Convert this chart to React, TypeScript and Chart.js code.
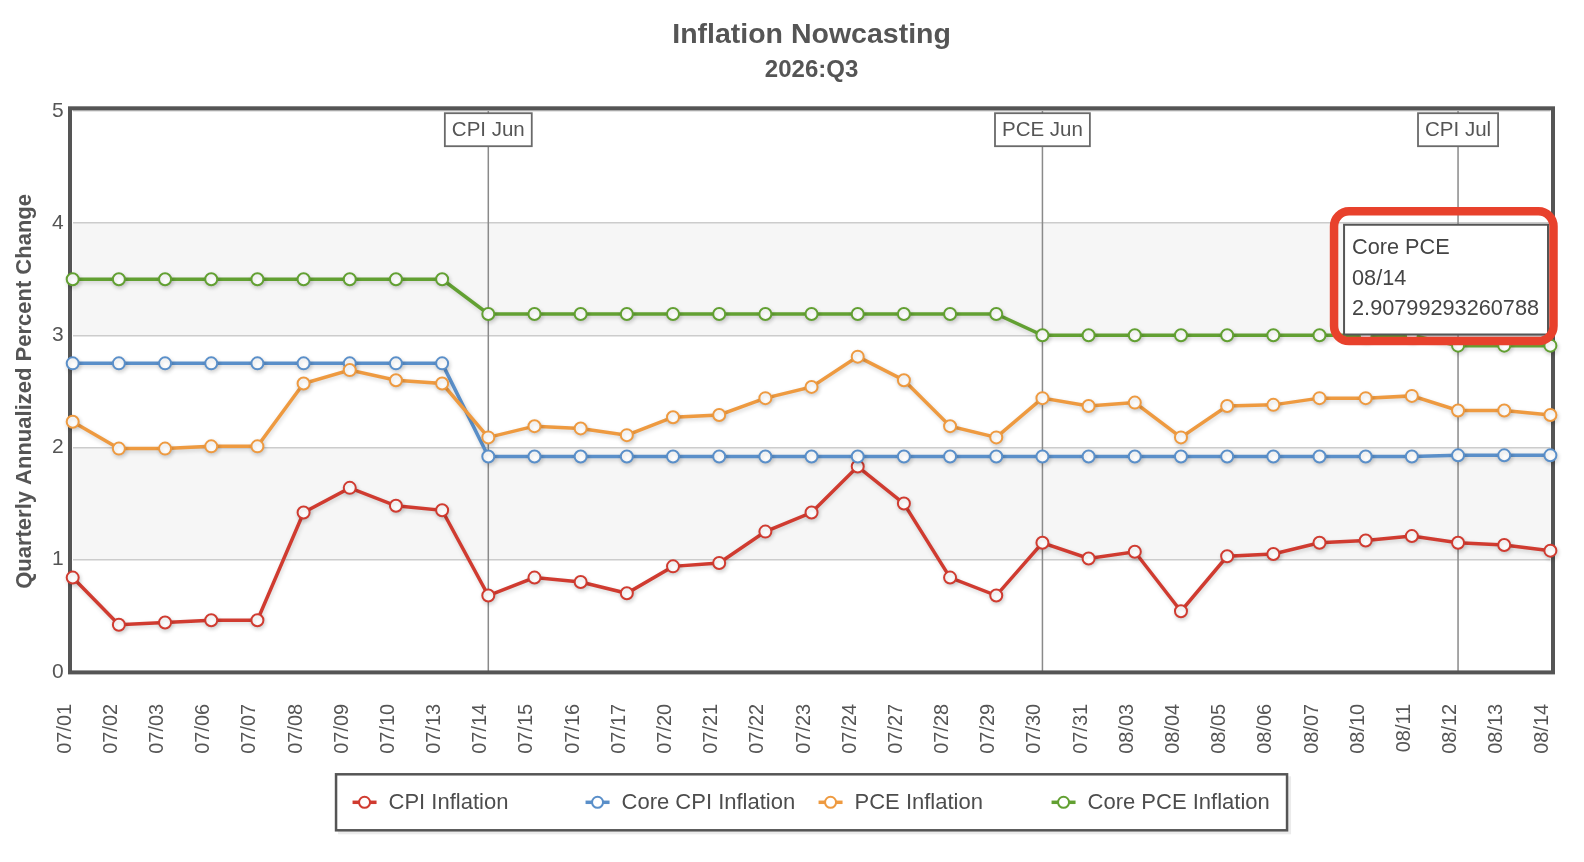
import React, { useEffect, useRef } from 'react';
import { Chart, registerables, Tooltip } from 'chart.js';

Chart.register(...registerables);

// ---------- data ----------
const categories = [
  '07/01', '07/02', '07/03', '07/06', '07/07', '07/08', '07/09', '07/10', '07/13', '07/14',
  '07/15', '07/16', '07/17', '07/20', '07/21', '07/22', '07/23', '07/24', '07/27', '07/28',
  '07/29', '07/30', '07/31', '08/03', '08/04', '08/05', '08/06', '08/07', '08/10', '08/11',
  '08/12', '08/13', '08/14',
];

const cpiInflation = [
  0.84, 0.42, 0.44, 0.46, 0.46, 1.42, 1.64, 1.48, 1.44, 0.68,
  0.84, 0.80, 0.70, 0.94, 0.97, 1.25, 1.42, 1.83, 1.50, 0.84,
  0.68, 1.15, 1.01, 1.07, 0.54, 1.03, 1.05, 1.15, 1.17, 1.21,
  1.15, 1.13, 1.08,
];

const coreCpiInflation = [
  2.75, 2.75, 2.75, 2.75, 2.75, 2.75, 2.75, 2.75, 2.75, 1.92,
  1.92, 1.92, 1.92, 1.92, 1.92, 1.92, 1.92, 1.92, 1.92, 1.92,
  1.92, 1.92, 1.92, 1.92, 1.92, 1.92, 1.92, 1.92, 1.92, 1.92,
  1.93, 1.93, 1.93,
];

const pceInflation = [
  2.23, 1.99, 1.99, 2.01, 2.01, 2.57, 2.69, 2.60, 2.57, 2.09,
  2.19, 2.17, 2.11, 2.27, 2.29, 2.44, 2.54, 2.81, 2.60, 2.19,
  2.09, 2.44, 2.37, 2.40, 2.09, 2.37, 2.38, 2.44, 2.44, 2.46,
  2.33, 2.33, 2.29,
];

const corePceInflation = [
  3.50, 3.50, 3.50, 3.50, 3.50, 3.50, 3.50, 3.50, 3.50, 3.19,
  3.19, 3.19, 3.19, 3.19, 3.19, 3.19, 3.19, 3.19, 3.19, 3.19,
  3.19, 3.00, 3.00, 3.00, 3.00, 3.00, 3.00, 3.00, 3.00, 3.00,
  2.908, 2.908, 2.90799293260788,
];

const seriesNames = ['CPI Inflation', 'Core CPI Inflation', 'PCE Inflation', 'Core PCE Inflation'];
const seriesShortNames = ['CPI', 'Core CPI', 'PCE', 'Core PCE'];
const seriesColors = ['#d03b30', '#5a8fc9', '#ee9a40', '#62a032'];
const seriesValues = [cpiInflation, coreCpiInflation, pceInflation, corePceInflation];

const yMin = 0;
const yMax = 5;
const yStep = 1;

const plotLineDates = ['07/14', '07/30', '08/12'];
const plotLineLabels = ['CPI Jun', 'PCE Jun', 'CPI Jul'];
const bandRanges = [[1, 2], [3, 4]];

const tooltipSeriesIndex = 3;
const tooltipDate = '08/14';

const chartTitle = 'Inflation Nowcasting';
const chartSubtitle = '2026:Q3';
const yAxisTitle = 'Quarterly Annualized Percent Change';

const FONT = '"Liberation Sans", Arial, Helvetica, sans-serif';

(Tooltip as any).positioners.fixedTopRight = function () {
  const chart = this.chart;
  const ca = chart.chartArea;
  return { x: ca.right - 2.4, y: chart.scales.y.getPixelForValue(4) + 1.6 };
};

const decorPlugin = {
  id: 'decor',
  beforeDraw(chart: any) {
    const { ctx, chartArea: ca, scales } = chart;
    ctx.save();
    ctx.fillStyle = '#ffffff';
    ctx.fillRect(0, 0, chart.width, chart.height);
    ctx.fillStyle = '#f6f6f6';
    bandRanges.forEach(([a, b]) => {
      const y1 = scales.y.getPixelForValue(b);
      const y2 = scales.y.getPixelForValue(a);
      ctx.fillRect(ca.left, y1, ca.right - ca.left, y2 - y1);
    });
    ctx.restore();
  },
  beforeDatasetsDraw(chart: any) {
    const { ctx, chartArea: ca, scales } = chart;
    ctx.save();
    // plot lines
    plotLineDates.forEach((d, i) => {
      const x = scales.x.getPixelForValue(categories.indexOf(d));
      ctx.strokeStyle = '#8a8a8a';
      ctx.lineWidth = 1.5;
      ctx.beginPath();
      ctx.moveTo(x, ca.top);
      ctx.lineTo(x, ca.bottom);
      ctx.stroke();
      ctx.font = `20.5px ${FONT}`;
      const tw = ctx.measureText(plotLineLabels[i]).width;
      const bw = tw + 14;
      const bh = 33;
      const bx = x - bw / 2;
      const by = ca.top + 2.2;
      ctx.fillStyle = '#ffffff';
      ctx.fillRect(bx, by, bw, bh);
      ctx.strokeStyle = '#6a6a6a';
      ctx.lineWidth = 1.8;
      ctx.strokeRect(bx, by, bw, bh);
      ctx.fillStyle = '#555555';
      ctx.textAlign = 'center';
      ctx.textBaseline = 'middle';
      ctx.fillText(plotLineLabels[i], x, by + bh / 2 + 1);
    });
    // plot border
    ctx.strokeStyle = '#555555';
    ctx.lineWidth = 4;
    const l = ca.left - 2.7;
    const r = ca.right + 2.6;
    const t = ca.top - 2.7;
    const b = ca.bottom + 0.6;
    ctx.strokeRect(l, t, r - l, b - t);
    ctx.restore();
    // shadow for series
    ctx.save();
    ctx.shadowColor = 'rgba(0,0,0,0.16)';
    ctx.shadowBlur = 4;
    ctx.shadowOffsetX = 1;
    ctx.shadowOffsetY = 2;
  },
  afterDatasetsDraw(chart: any) {
    chart.ctx.restore();
  },
  beforeTooltipDraw(chart: any, args: any) {
    const t = args.tooltip;
    if (!t || !t.opacity) return;
    const ctx = chart.ctx;
    ctx.save();
    ctx.fillStyle = 'rgba(0,0,0,0.10)';
    ctx.fillRect(t.x + 2, t.y + 2, t.width + 1, t.height + 1);
    ctx.restore();
  },
  afterTooltipDraw(chart: any, args: any) {
    const t = args.tooltip;
    if (!t || !t.opacity) return;
    const ctx = chart.ctx;
    ctx.save();
    ctx.strokeStyle = '#e8412c';
    ctx.lineWidth = 8.5;
    const l = t.x - 10;
    const r = t.x + t.width + 5.5;
    const tp = t.y - 13.5;
    const b = t.y + t.height + 6.5;
    ctx.beginPath();
    (ctx as any).roundRect(l, tp, r - l, b - tp, 15);
    ctx.stroke();
    ctx.restore();
  },
  afterDraw(chart: any) {
    const { ctx, chartArea: ca } = chart;
    const cx = (ca.left + ca.right) / 2;
    const w = 951;
    const h = 56;
    const left = cx - w / 2;
    const top = ca.bottom + 102.5;
    ctx.save();
    ctx.fillStyle = 'rgba(0,0,0,0.08)';
    ctx.fillRect(left + 2, top + 2, w + 2, h + 2);
    ctx.fillStyle = '#ffffff';
    ctx.fillRect(left, top, w, h);
    ctx.strokeStyle = '#555555';
    ctx.lineWidth = 2.5;
    ctx.strokeRect(left, top, w, h);
    chart.data.datasets.forEach((ds: any, i: number) => {
      const sx = left + 28.5 + i * 233;
      const sy = top + h / 2;
      ctx.strokeStyle = ds.borderColor;
      ctx.lineWidth = 3.5;
      ctx.beginPath();
      ctx.moveTo(sx - 12, sy);
      ctx.lineTo(sx + 12, sy);
      ctx.stroke();
      ctx.beginPath();
      ctx.arc(sx, sy, 5.5, 0, Math.PI * 2);
      ctx.fillStyle = '#ffffff';
      ctx.fill();
      ctx.lineWidth = 2;
      ctx.stroke();
      ctx.fillStyle = '#4d4d4d';
      ctx.font = `22px ${FONT}`;
      ctx.textAlign = 'left';
      ctx.textBaseline = 'middle';
      ctx.fillText(ds.label, sx + 24, sy + 1);
    });
    ctx.restore();
  },
};

export default function App() {
  const canvasRef = useRef<HTMLCanvasElement | null>(null);

  useEffect(() => {
    const canvas = canvasRef.current;
    if (!canvas) return;
    Chart.defaults.font.family = FONT;

    const datasets = seriesValues.map((vals, i) => ({
      label: seriesNames[i],
      data: vals,
      borderColor: seriesColors[i],
      backgroundColor: seriesColors[i],
      borderWidth: 3.5,
      pointRadius: 6,
      pointBorderWidth: 2,
      pointBackgroundColor: '#ffffff',
      pointBorderColor: seriesColors[i],
      pointHoverRadius: 6,
      tension: 0,
      clip: false as any,
      order: seriesValues.length - 1 - i,
    }));

    const chart = new Chart(canvas, {
      type: 'line',
      data: { labels: categories, datasets },
      options: {
        responsive: false,
        animation: false,
        events: [],
        layout: { padding: { top: 0, left: 0, right: 33.6, bottom: 0 } },
        scales: {
          x: {
            type: 'category',
            offset: false,
            grid: {
              display: true,
              drawOnChartArea: false,
              drawTicks: true,
              tickLength: 32,
              color: 'rgba(0,0,0,0)',
            },
            border: { display: false },
            ticks: {
              color: '#555555',
              font: { size: 20 },
              autoSkip: false,
              minRotation: 90,
              maxRotation: 90,
              padding: 0,
              labelOffset: -7.5,
            },
            afterFit: (scale: any) => {
              scale.height = 190.2;
            },
          },
          y: {
            min: yMin,
            max: yMax,
            grid: { color: '#cccccc', lineWidth: 1.5, drawTicks: false },
            border: { display: false },
            ticks: {
              stepSize: yStep,
              color: '#555555',
              font: { size: 21 },
              padding: 9,
            },
            title: {
              display: true,
              text: yAxisTitle,
              color: '#555555',
              font: { size: 22, weight: 'bold' },
              padding: { top: 11.8, bottom: 0 },
            },
            afterFit: (scale: any) => {
              scale.width = 72.7;
            },
          },
        },
        plugins: {
          legend: { display: false },
          title: {
            display: true,
            text: chartTitle,
            color: '#555555',
            font: { size: 28.5, weight: 'bold', lineHeight: 1.2 },
            padding: { top: 17.9, bottom: 0 },
            fullSize: false,
          },
          subtitle: {
            display: true,
            text: chartSubtitle,
            color: '#555555',
            font: { size: 24, weight: 'bold', lineHeight: 1.2 },
            padding: { top: 4.0, bottom: 26.1 },
            fullSize: false,
          },
          tooltip: {
            enabled: true,
            position: 'fixedTopRight' as any,
            xAlign: 'right',
            yAlign: 'top',
            backgroundColor: '#ffffff',
            borderColor: '#555555',
            borderWidth: 2,
            cornerRadius: 0,
            caretSize: 0,
            caretPadding: 0,
            displayColors: false,
            titleColor: '#444444',
            bodyColor: '#444444',
            titleFont: { size: 21.7, weight: 'normal', lineHeight: 1.41 },
            bodyFont: { size: 21.7, weight: 'normal', lineHeight: 1.41 },
            titleSpacing: 0,
            titleMarginBottom: 0,
            bodySpacing: 0,
            padding: { top: 8, bottom: 10, left: 8, right: 9 },
            callbacks: {
              title: (items: any[]) => [seriesShortNames[items[0].datasetIndex], items[0].label],
              label: (ctx: any) => String(ctx.raw),
            },
          },
        },
      },
      plugins: [decorPlugin],
    } as any);

    const idx = categories.indexOf(tooltipDate);
    chart.tooltip?.setActiveElements([{ datasetIndex: tooltipSeriesIndex, index: idx }], { x: 0, y: 0 });
    chart.draw();

    return () => {
      chart.destroy();
    };
  }, []);

  return (
    <div style={{ position: 'absolute', left: 0, top: 0, width: 1584, height: 862, background: '#ffffff' }}>
      <canvas ref={canvasRef} width={1584} height={862} />
    </div>
  );
}
